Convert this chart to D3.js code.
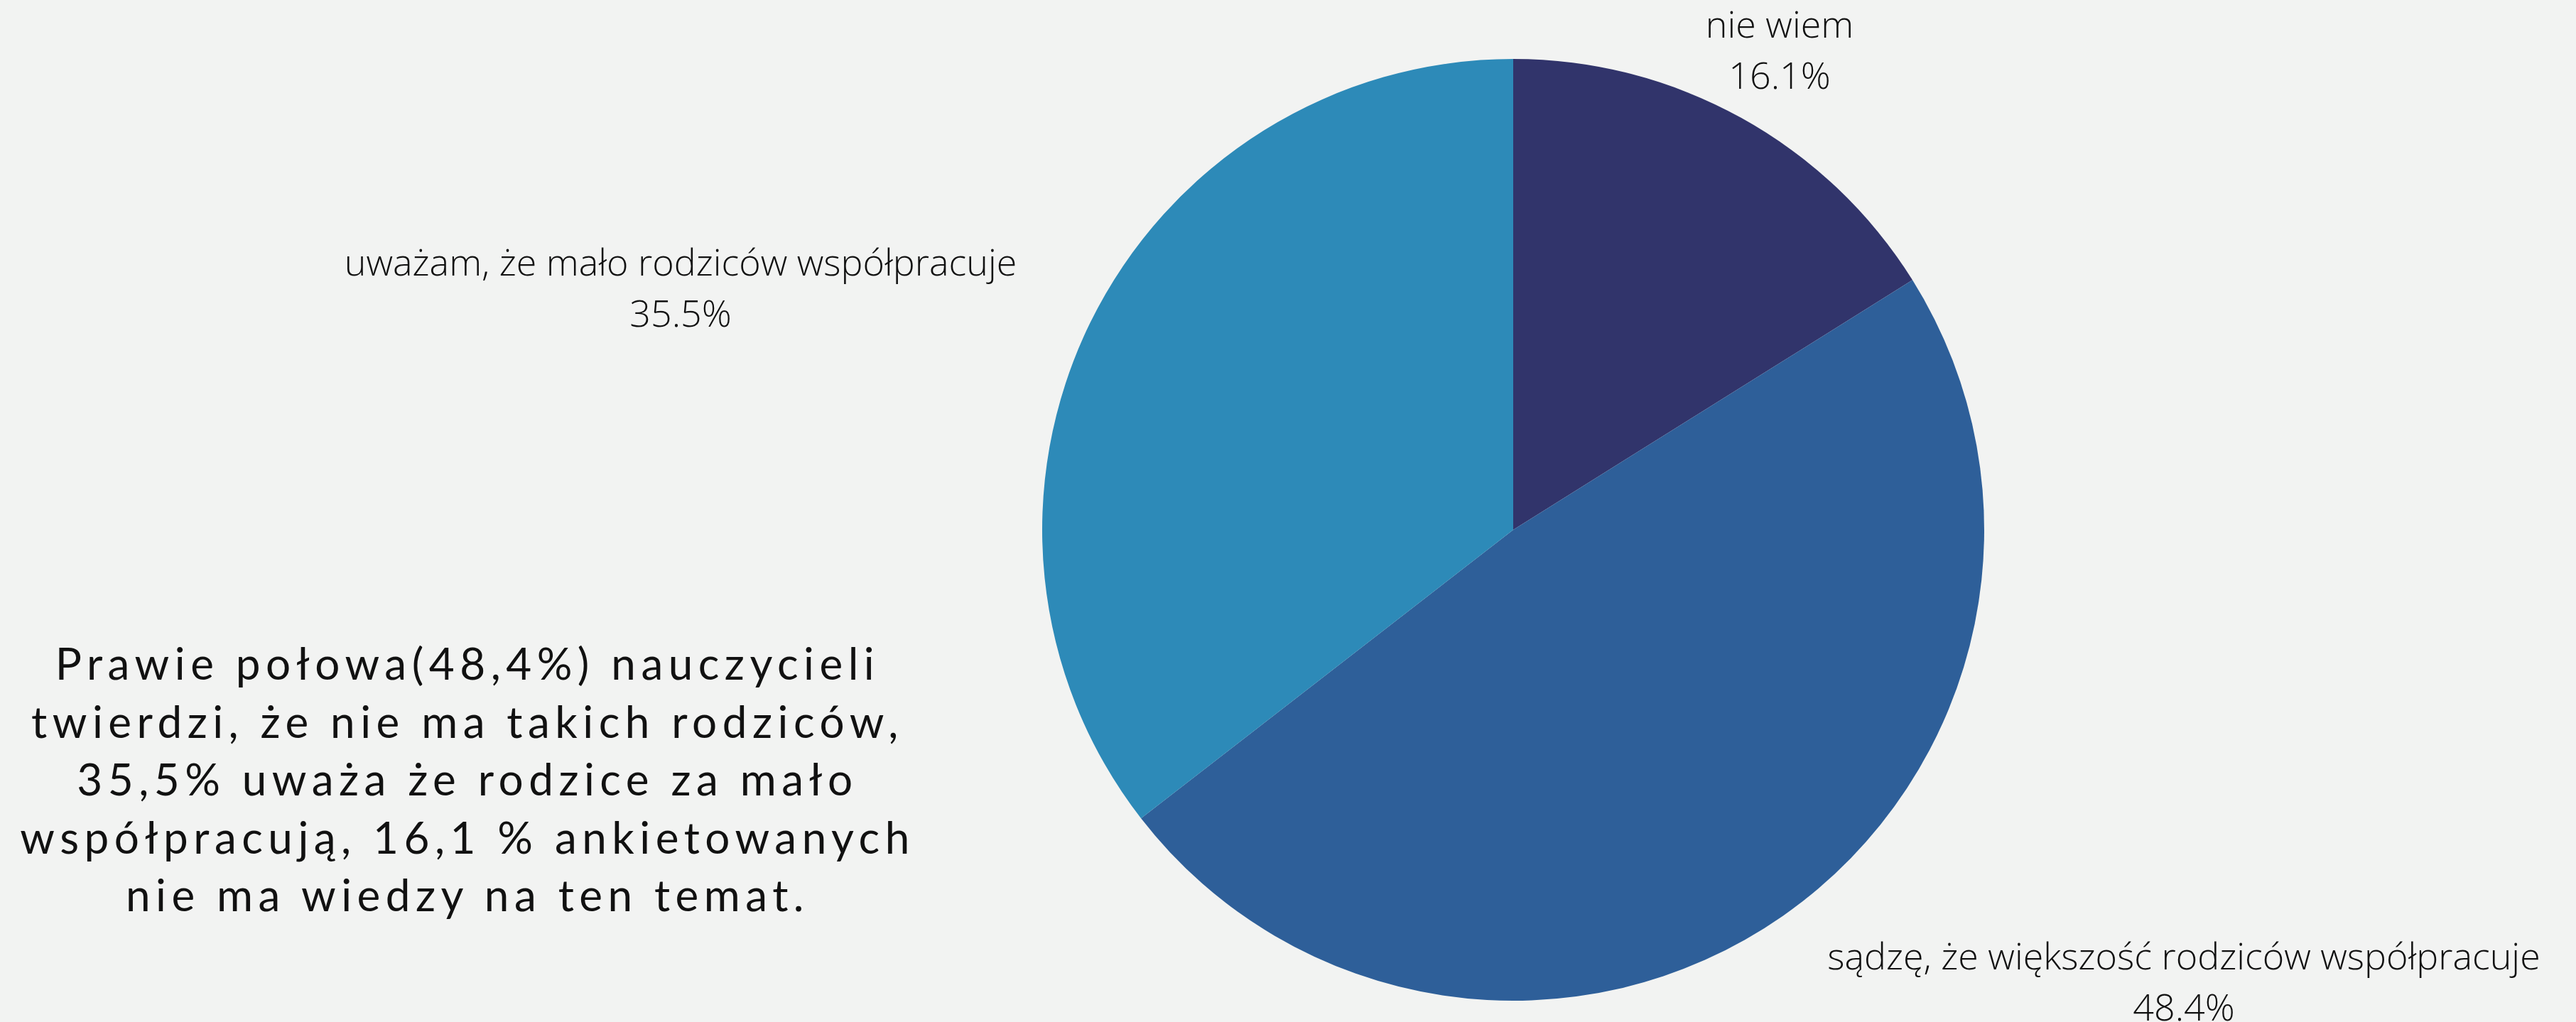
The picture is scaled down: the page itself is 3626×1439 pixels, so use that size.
<!DOCTYPE html>
<html><head><meta charset="utf-8">
<script src="https://cdn.jsdelivr.net/npm/d3@7"></script>
<style>
html,body{margin:0;padding:0;background:#f2f3f2;}
svg{display:block;}
</style></head>
<body>
<svg id="chart" width="3626" height="1439"></svg>
<script>
const categories = ["nie wiem", "sądzę, że większość rodziców współpracuje", "uważam, że mało rodziców współpracuje"];
const values = [16.1, 48.4, 35.5];
const colors = ["#31346b", "#2e5f99", "#2d8ab8"];
const noteLines = [
  "Prawie połowa(48,4%) nauczycieli",
  "twierdzi, że nie ma takich rodziców,",
  "35,5% uważa że rodzice za mało",
  "współpracują, 16,1 % ankietowanych",
  "nie ma wiedzy na ten temat."
];

const svg = d3.select("#chart");
const cx = 2130, cy = 746, R = 663;
const labelPos = [[2505, 53], [3074, 1365], [958, 388]];

const pie = d3.pie().sort(null).value(d => d)(values);
const arc = d3.arc().innerRadius(0).outerRadius(R);
const g = svg.append("g").attr("transform", `translate(${cx},${cy})`);
g.selectAll("path").data(pie).enter().append("path")
  .attr("d", arc).attr("fill", (d, i) => colors[i]);

const lab = svg.append("g").attr("font-family", "'Open Sans', sans-serif")
  .attr("font-weight", 300).attr("font-size", 52).attr("fill", "#111").attr("text-anchor", "middle");
pie.forEach((d, i) => {
  const t = lab.append("text").attr("x", labelPos[i][0]).attr("y", labelPos[i][1]);
  t.append("tspan").attr("x", labelPos[i][0]).text(categories[i]);
  t.append("tspan").attr("x", labelPos[i][0]).attr("dy", 72).text(d3.format(".1f")(values[i]) + "%");
});

const note = svg.append("text").attr("font-family", "Lato, sans-serif").attr("font-weight", 400)
  .attr("font-size", 62).attr("letter-spacing", 7.5).attr("fill", "#111").attr("text-anchor", "middle");
noteLines.forEach((l, i) => {
  note.append("tspan").attr("x", 658).attr("y", 957 + i * 81.5).text(l);
});
</script>
</body></html>
